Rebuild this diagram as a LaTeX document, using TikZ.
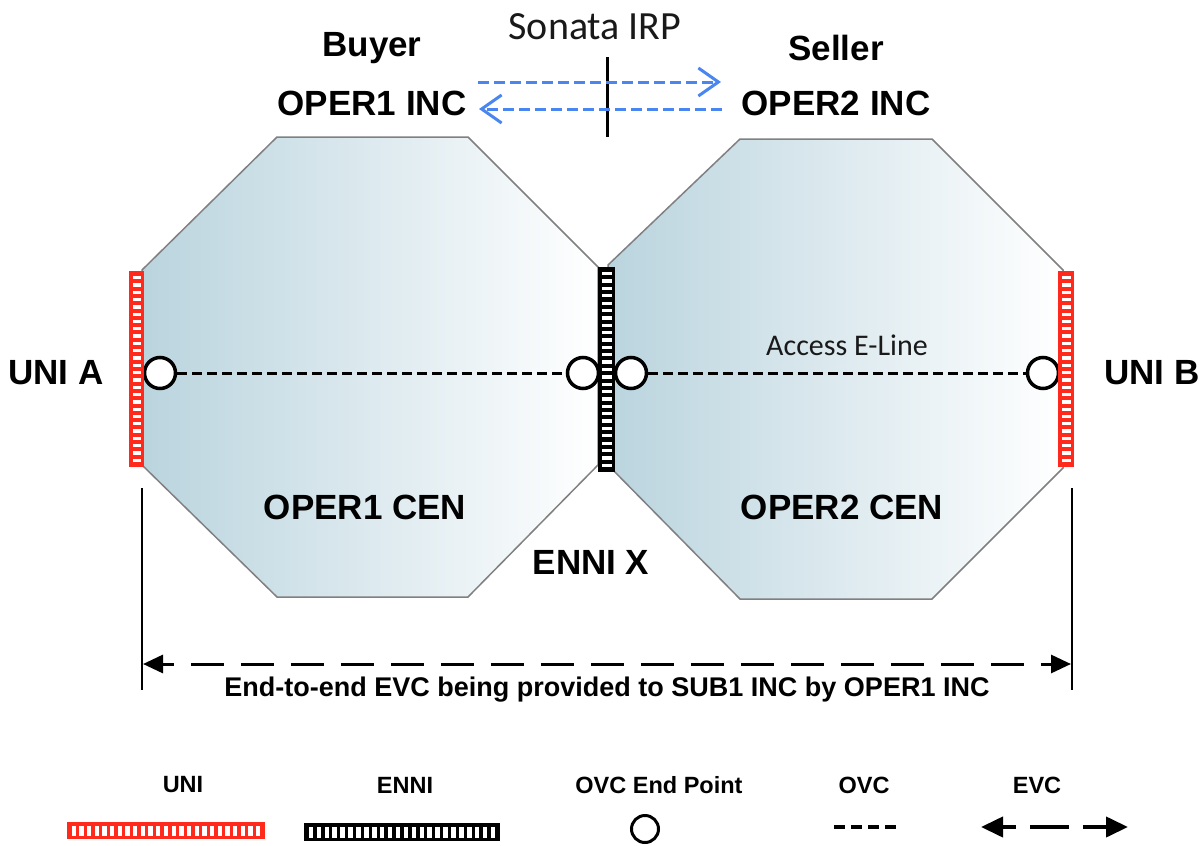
\documentclass[tikz,border=0pt]{standalone}
\usepackage{fontspec}
\setmainfont{Liberation Sans}
\newfontfamily\calfont{Carlito}
\usetikzlibrary{arrows.meta}
\definecolor{unired}{RGB}{255,42,28}
\definecolor{irpblue}{RGB}{74,134,240}
\definecolor{cenblue}{RGB}{186,212,222}
\definecolor{cenedge}{RGB}{128,128,128}
\newcommand{\vtickbar}[6]{%
  \fill[#5] (#1,#2) rectangle ++(#3,#4);
  \foreach \k in {1,...,#6}{%
    \fill[white] ({#1+3.5},{#2+3+(\k-1)*(#4-6)/#6+0.275*(#4-6)/#6}) rectangle ++({#3-7},{0.45*(#4-6)/#6});
  }%
}
\newcommand{\htickbar}[6]{%
  \fill[#5] (#1,#2) rectangle ++(#3,#4);
  \foreach \k in {1,...,#6}{%
    \fill[white] ({#1+3+(\k-1)*(#3-6)/#6+0.22*(#3-6)/#6},{#2+3.5}) rectangle ++({0.56*(#3-6)/#6},{#4-7});
  }%
}
\begin{document}
\begin{tikzpicture}[x=1pt,y=-1pt,
  lbl/.style={font=\bfseries\fontsize{35}{40}\selectfont, inner sep=0pt},
  leg/.style={font=\bfseries\fontsize{23.5}{28}\selectfont, inner sep=0pt},
  thin label/.style={font=\calfont\fontsize{#1}{#1}\selectfont, inner sep=0pt, text=black!90},
  octo/.style={draw=cenedge, line width=1.5pt, left color=cenblue, right color=white},
  endpt/.style={circle, draw=black, line width=3.5pt, fill=white, minimum size=31pt, inner sep=0pt},
  ovc/.style={line width=3pt, dash pattern=on 10pt off 5pt},
  irp/.style={irpblue, line width=3pt, dash pattern=on 11pt off 5pt, -{Straight Barb[length=20pt,width=28pt]}},
  evc/.style={line width=3pt, {Triangle[length=20pt,width=18pt]}-{Triangle[length=20pt,width=18pt]}},
  dimline/.style={line width=2.8pt},
]
\useasboundingbox (0,0) rectangle (1203,846);

% CEN octagons
\path[octo] (277,137) -- (468,137) -- (598,267) -- (598,465) -- (468,597) -- (277,597) -- (142,465) -- (142,270) -- cycle;
\path[octo] (740,139) -- (932,139) -- (1063,270) -- (1063,468) -- (932,599) -- (740,599) -- (608,465) -- (608,265) -- cycle;

% OVC end points and OVCs
\node[endpt] (ca) at (160,373) {};
\node[endpt] (cx1) at (583,373) {};
\node[endpt] (cx2) at (631,373) {};
\node[endpt] (cb) at (1043,373) {};
\draw[ovc] (ca) -- (cx1);
\draw[ovc] (cx2) -- (cb);

% UNI and ENNI bars
\vtickbar{129}{271}{15}{196}{unired}{26}
\vtickbar{598}{267}{17}{205}{black}{27}
\vtickbar{1058}{271}{16}{196}{unired}{26}

% Labels
\node[lbl] (buyer) at (372,48) {Buyer};
\node[lbl] (oper1inc) at (372,103) {OPER1 INC};
\node[lbl] (seller) at (836,48) {Seller};
\node[lbl] (oper2inc) at (836,103) {OPER2 INC};
\node[thin label=40] (irp) at (595,27) {Sonata IRP};
\node[lbl] (unia) at (56,373) {UNI A};
\node[lbl] (unib) at (1152,373) {UNI B};
\node[lbl] (cen1) at (365,507) {OPER1 CEN};
\node[lbl] (cen2) at (842,507) {OPER2 CEN};
\node[lbl] (ennix) at (591,562) {ENNI X};
\node[thin label=30] (eline) at (847,345) {Access E-Line};

% Sonata IRP arrows
\coordinate (irptop) at (607,57);
\coordinate (irpbot) at (607,137);
\draw[line width=3pt] (irptop) -- (irpbot);
\coordinate (a1s) at (478,82);
\coordinate (a1e) at (721,82);
\coordinate (a2s) at (722,109);
\coordinate (a2e) at (479,109);
\draw[irp] (a1s) -- (a1e);
\draw[irp] (a2s) -- (a2e);

% EVC dimension
\coordinate (d1t) at (142,488);
\coordinate (d1b) at (142,690);
\coordinate (d2t) at (1072,488);
\coordinate (d2b) at (1072,690);
\draw[dimline] (d1t) -- (d1b);
\draw[dimline] (d2t) -- (d2b);
\coordinate (e1) at (143,664);
\coordinate (e2) at (1071,664);
\draw[evc, dash pattern=on 33pt off 17pt, dash phase=21.5pt] (e1) -- (e2);
\node[font=\bfseries\fontsize{27}{30}\selectfont, inner sep=0pt] (evctext) at (607,690) {End-to-end EVC being provided to SUB1 INC by OPER1 INC};

% Legend
\node[leg] (lguni) at (183,785) {UNI};
\node[leg] (lgenni) at (405,785) {ENNI};
\node[leg] (lgep) at (659,785) {OVC End Point};
\node[leg] (lgovc) at (864,785) {OVC};
\node[leg] (lgevc) at (1037,785) {EVC};
\htickbar{67}{822}{198}{17}{unired}{25}
\htickbar{304}{823}{196}{18}{black}{24}
\node[endpt, minimum size=27pt, line width=3pt] (lgcirc) at (645,829) {};
\coordinate (o1) at (834,827);
\coordinate (o2) at (901,827);
\draw[ovc, line width=4pt, dash pattern=on 11pt off 6pt] (o1) -- (o2);
\coordinate (v1) at (981,827);
\coordinate (v2) at (1128,827);
\draw[line width=4pt, {Triangle[length=22pt,width=20pt]}-{Triangle[length=22pt,width=20pt]}, dash pattern=on 14pt off 14pt on 39pt off 14pt on 30pt] (v1) -- (v2);
\end{tikzpicture}
\end{document}
